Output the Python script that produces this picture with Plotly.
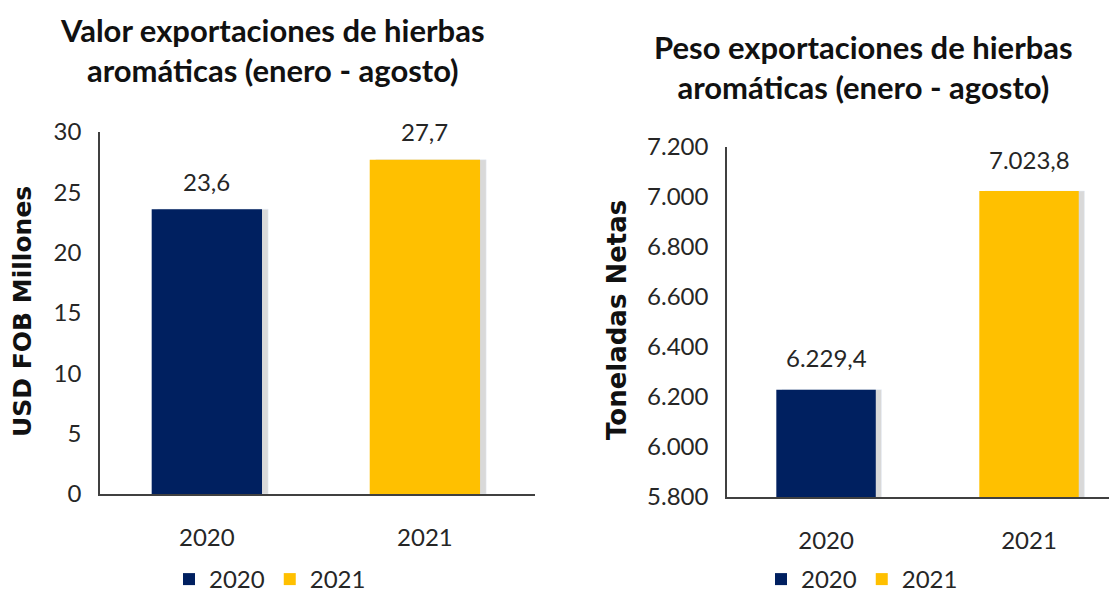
import plotly.graph_objects as go

years = ["2020", "2021"]
valor_usd = [23.6, 27.7]
peso_ton = [6229.4, 7023.8]
valor_labels = ["23,6", "27,7"]
peso_labels = ["6.229,4", "7.023,8"]
colors = ["#002060", "#FFC000"]

FONT = "Lato"
TXT = "#262626"

# page has an 8px body margin; keep the figure inside the window so nothing scrolls
W, H = 1101, 594


def px(x):
    return (x - 8) / W


def py(y):
    return 1 - (y - 8) / H


fig = go.Figure()

# soft drop shadows behind bars
for i, yr in enumerate(years):
    fig.add_trace(go.Bar(x=[yr], y=[valor_usd[i]], xaxis="x", yaxis="y", width=0.506,
                         offset=-0.253 + 0.028, marker_color="rgba(0,0,0,0.15)",
                         showlegend=False, hoverinfo="skip"))
    fig.add_trace(go.Bar(x=[yr], y=[peso_ton[i]], xaxis="x2", yaxis="y2", width=0.49,
                         offset=-0.245 + 0.028, marker_color="rgba(0,0,0,0.15)",
                         showlegend=False, hoverinfo="skip"))

# left chart: valor
for i, yr in enumerate(years):
    fig.add_trace(go.Bar(
        x=[yr], y=[valor_usd[i]], name=yr, marker_color=colors[i], marker_line_width=0,
        xaxis="x", yaxis="y", legend="legend", width=0.506, offset=-0.253,
        hoverinfo="skip"
    ))

# right chart: peso
for i, yr in enumerate(years):
    fig.add_trace(go.Bar(
        x=[yr], y=[peso_ton[i]], name=yr, marker_color=colors[i], marker_line_width=0,
        xaxis="x2", yaxis="y2", legend="legend2", width=0.49, offset=-0.245,
        hoverinfo="skip"
    ))

annotations = []
for i, yr in enumerate(years):
    annotations.append(dict(x=i, y=valor_usd[i], xref="x", yref="y", text=valor_labels[i],
                            showarrow=False, yshift=28, yanchor="middle",
                            font=dict(size=24, color=TXT, family=FONT)))
    annotations.append(dict(x=i, y=peso_ton[i], xref="x2", yref="y2", text=peso_labels[i],
                            showarrow=False, yshift=32, yanchor="middle",
                            font=dict(size=24, color=TXT, family=FONT)))

annotations.append(dict(x=px(272), y=py(50), xref="paper", yref="paper",
                        xanchor="center", yanchor="middle",
                        text="<b>Valor exportaciones de hierbas<br>aromáticas (enero - agosto)</b>",
                        showarrow=False, font=dict(size=31, color="#111", family=FONT)))
annotations.append(dict(x=px(863), y=py(67), xref="paper", yref="paper",
                        xanchor="center", yanchor="middle",
                        text="<b>Peso exportaciones de hierbas<br>aromáticas (enero - agosto)</b>",
                        showarrow=False, font=dict(size=31, color="#111", family=FONT)))
annotations.append(dict(x=px(22), y=py(312), xref="paper", yref="paper", textangle=-90,
                        xanchor="center", yanchor="middle", text="<b>USD FOB Millones</b>",
                        showarrow=False, font=dict(size=25, color="#111", family="DejaVu Sans")))
annotations.append(dict(x=px(617), y=py(320), xref="paper", yref="paper", textangle=-90,
                        xanchor="center", yanchor="middle", text="<b>Toneladas Netas</b>",
                        showarrow=False, font=dict(size=26, color="#111", family="DejaVu Sans")))

axis_common = dict(showgrid=False, zeroline=False, showline=True, linecolor="#404040",
                   linewidth=1.5, ticks="outside", tickcolor="rgba(0,0,0,0)",
                   tickfont=dict(size=24, color=TXT, family=FONT), automargin=False)

fig.update_layout(
    width=W, height=H,
    margin=dict(l=0, r=0, t=0, b=0),
    paper_bgcolor="white", plot_bgcolor="white",
    separators=",.",
    barmode="overlay",
    annotations=annotations,
    xaxis=dict(axis_common, type="category", domain=[px(100), px(535)], anchor="y",
               ticklen=21, range=[-0.49, 1.505]),
    yaxis=dict(axis_common, domain=[py(494), py(132)], anchor="x",
               range=[0, 30], dtick=5, ticklen=12),
    xaxis2=dict(axis_common, type="category", domain=[px(727), 1], anchor="y2",
                ticklen=21, range=[-0.488, 1.394]),
    yaxis2=dict(axis_common, domain=[py(497), py(147)], anchor="x2",
                range=[5800, 7200], dtick=200, tickformat=",.0f", ticklen=12),
    legend=dict(orientation="h", x=px(270), xanchor="center", y=0, yanchor="bottom",
                font=dict(size=24, color=TXT, family=FONT), itemwidth=30, tracegroupgap=0),
    legend2=dict(orientation="h", x=px(862), xanchor="center", y=0, yanchor="bottom",
                 font=dict(size=24, color=TXT, family=FONT), itemwidth=30, tracegroupgap=0),
)

fig.write_html("out.html")
